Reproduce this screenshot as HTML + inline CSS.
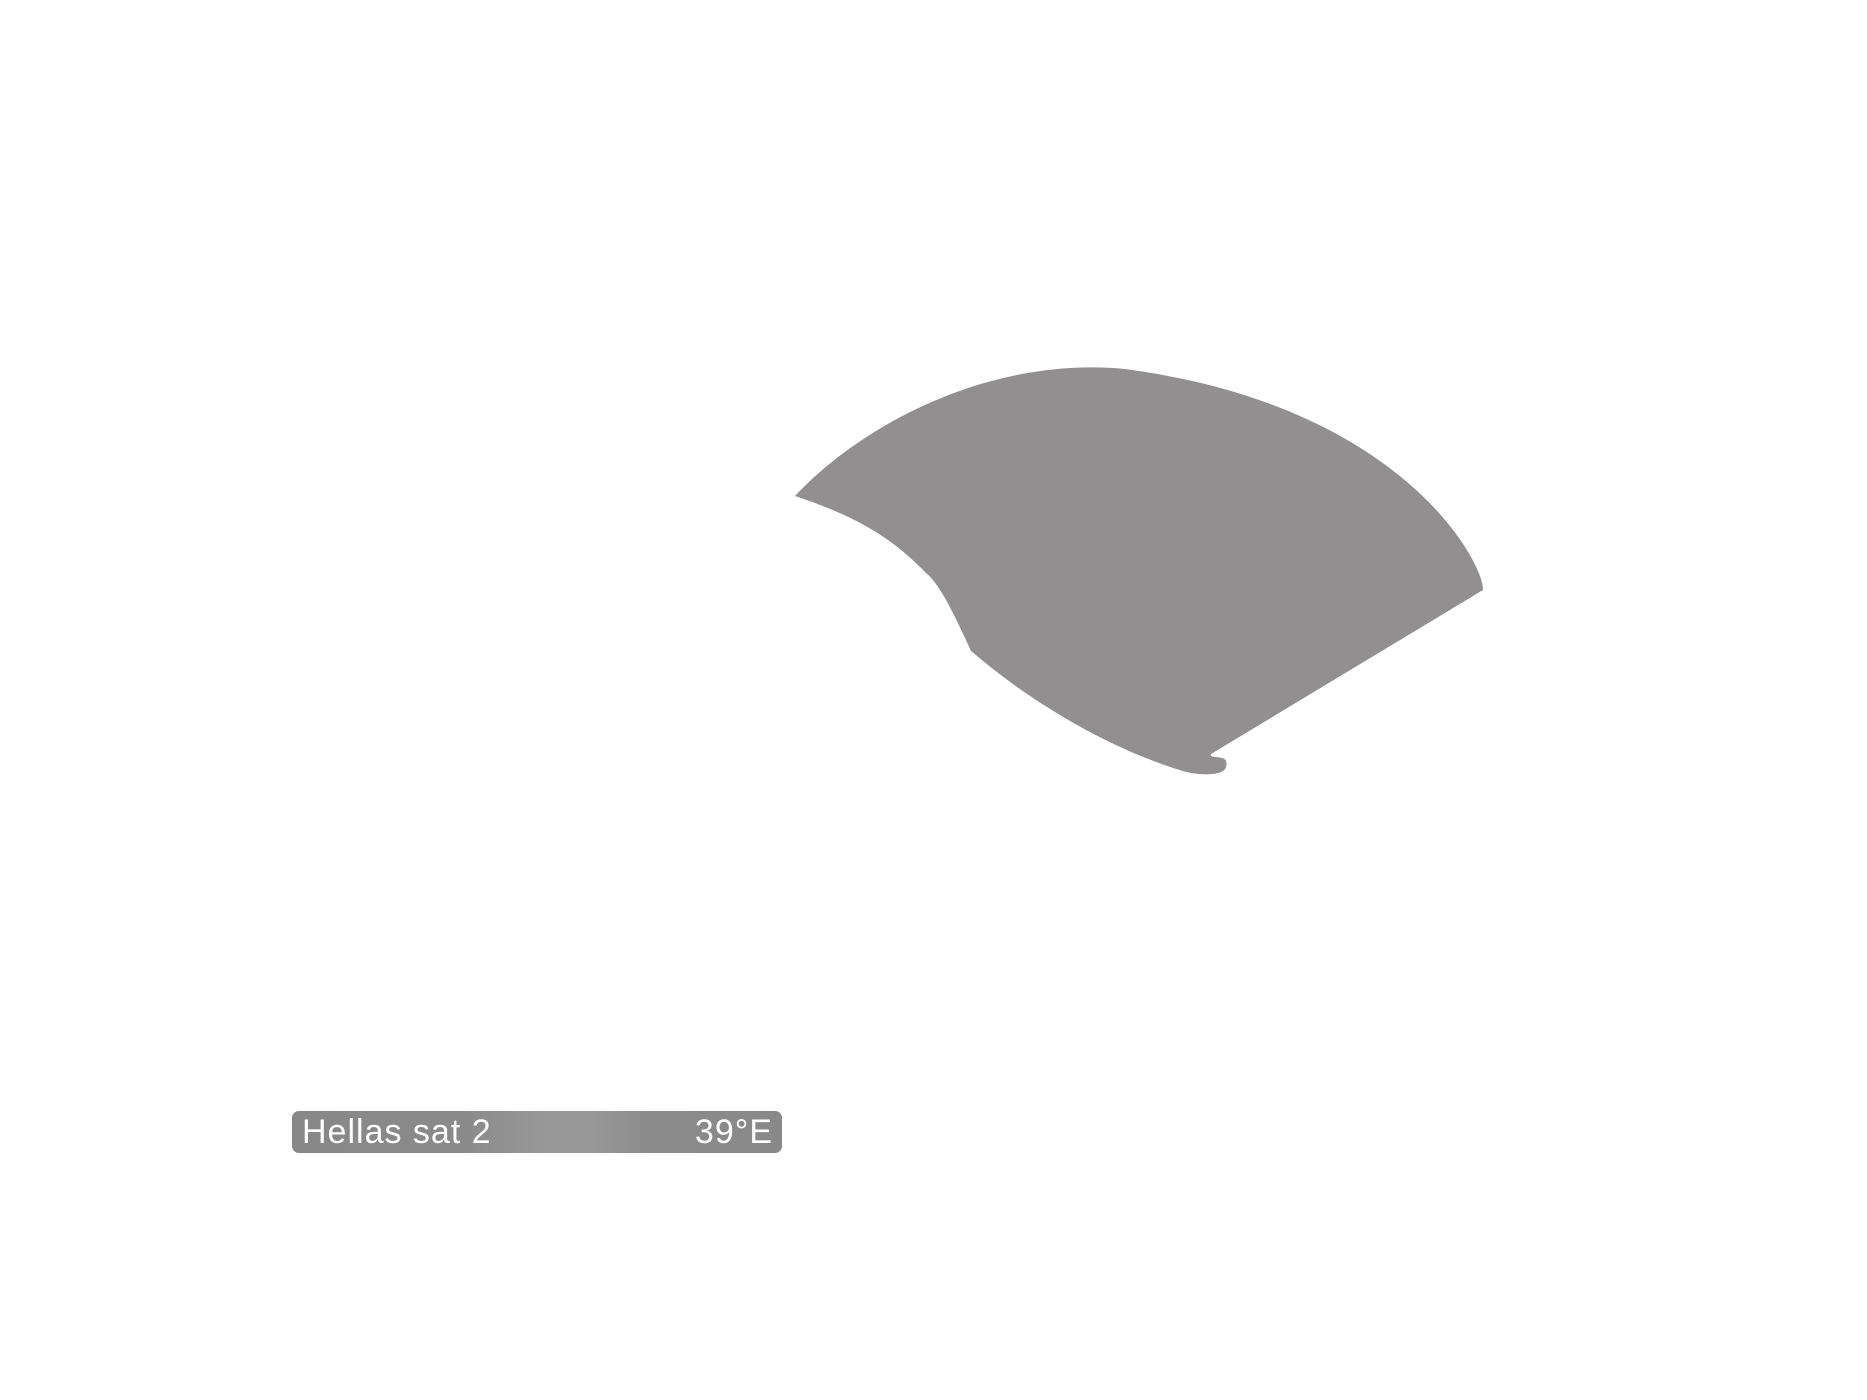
<!DOCTYPE html>
<html><head><style>
html,body{margin:0;padding:0;background:#fff;width:1867px;height:1400px;overflow:hidden}
.lbl{position:absolute;left:292px;top:1111px;width:490px;height:42px;border-radius:7px;
background:linear-gradient(90deg,#888 0%,#8a8a8a 35%,#979797 50%,#999 60%,#8c8c8c 72%,#888 100%);
color:#fff;font-family:"Liberation Sans",sans-serif;font-size:34px;line-height:42px;letter-spacing:1px}
.l{position:absolute;left:10px;top:0}
.r{position:absolute;right:9px;top:0}
</style></head><body>
<svg width="1867" height="1400" style="position:absolute;left:0;top:0">
<path transform="translate(-5,-4)" d="M800,500 C860,520 895,540 931,577 C945,588 960,620 976,655 C1040,710 1120,755 1191,776 C1205,779 1236,782 1231,765 C1229,759 1214,763 1216,758 L1488,594 C1490,570 1410,410 1130,373 C1000,360 870,425 800,500 Z" fill="#918f90"/>
</svg>
<div class="lbl"><span class="l">Hellas sat 2</span><span class="r">39°E</span></div>
</body></html>
